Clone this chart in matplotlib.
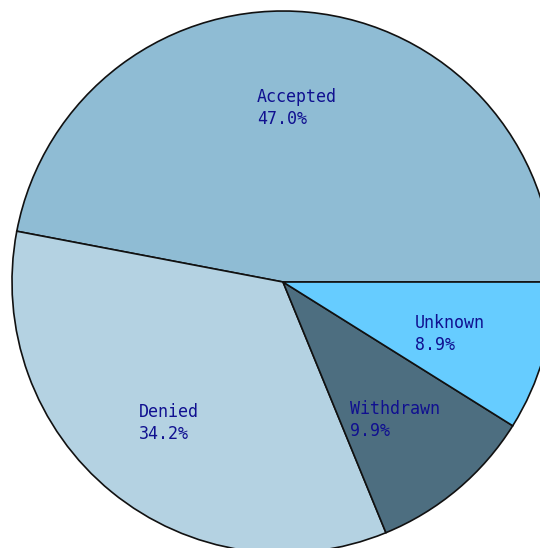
import matplotlib
matplotlib.use("Agg")
import matplotlib.pyplot as plt

categories = ["Accepted", "Denied", "Withdrawn", "Unknown"]
shares = [47.0, 34.2, 9.9, 8.9]

colors = ["#8fbcd4", "#b4d2e2", "#4d6e80", "#66ccff"]
label_pos = [(257, 102), (139, 417), (350, 414), (415, 328)]  # left x, baseline y (pixels)

fig = plt.figure(figsize=(5.40, 5.48), dpi=100)
ax = fig.add_axes([0, 0, 1, 1])
ax.pie(shares, colors=colors, startangle=0, counterclock=False,
       center=(283, 282), radius=271,
       wedgeprops=dict(edgecolor="#111111", linewidth=1.2))
ax.set_xlim(0, 540)
ax.set_ylim(548, 0)
ax.set_aspect("equal")
ax.axis("off")

for name, val, (x, y) in zip(categories, shares, label_pos):
    ax.text(x, y, name, family="DejaVu Sans Mono", fontsize=12,
            color="#101090", ha="left", va="baseline")
    ax.text(x, y + 22, f"{val:.1f}%", family="DejaVu Sans Mono", fontsize=12,
            color="#101090", ha="left", va="baseline")

fig.savefig("out.png", dpi=100)
